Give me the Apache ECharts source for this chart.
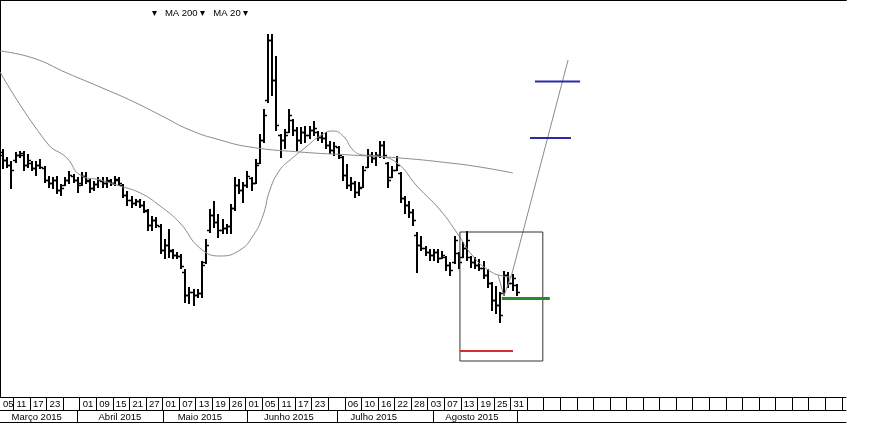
<!DOCTYPE html>
<html><head><meta charset="utf-8">
<script src="https://cdn.jsdelivr.net/npm/echarts@6/dist/echarts.min.js"></script>
<style>html,body{margin:0;padding:0;background:#fff}#c{width:880px;height:423px}</style>
</head><body><div id="c"></div>
<script>
// ---- data ----
var dayLabels = ['05','11','17','23','','01','09','15','21','27','01','07','13','19','26','01','05','11','17','23','','06','10','16','22','28','03','07','13','19','25','31'];
var dayCells = 51; // label cells of 4 trading-day slots each
var monthLabels = ['Março 2015','Abril 2015','Maio 2015','Junho 2015','Julho 2015','Agosto 2015'];
var monthBounds = [19.3, 40.1, 60.4, 82.1, 105.3, 125.6];
var monthCenters = [9.6, 29.7, 49.0, 70.5, 91.0, 114.7];

var opens = [23.7,24.2,23.7,23.2,23.7,24.2,24.2,23.2,23.4,22.9,23.2,22.9,21.7,21.4,21.7,20.7,21.2,21.7,22.1,21.7,
21.4,22.1,21.6,20.9,21.3,21.6,21.4,21.6,21.4,21.7,21.2,20.2,19.7,19.4,19.6,19.2,18.6,17.2,17.7,17.1,
14.7,15.2,14.6,14.2,14.1,12.5,10.2,10.5,10.2,10.4,13.5,16.7,18.2,17.5,16.7,16.9,17.1,18.9,21.2,20.7,
21.2,21.9,21.4,23.4,25.7,29.7,35.7,31.7,26.2,25.7,26.5,27.7,26.7,25.7,26.5,26.2,26.7,26.5,26.0,25.9,
25.2,24.7,25.0,24.0,22.2,21.2,21.4,20.5,21.0,23.0,24.2,23.9,24.2,25.2,23.4,22.0,22.7,22.4,19.9,19.2,
18.5,16.2,15.2,14.9,14.5,14.2,14.5,13.9,14.0,13.2,13.5,14.4,14.0,14.9,14.0,13.5,13.2,12.9,12.2,11.4,
9.7,9.2,10.4,12.2,11.4,11.2];
var highs = [24.9,24.7,23.9,23.5,24.4,24.5,24.5,24.2,23.5,23.5,23.7,23.0,22.0,21.9,22.0,21.2,21.9,22.5,22.2,21.9,
22.4,22.4,21.7,21.5,21.9,21.9,21.9,21.7,22.0,21.9,21.2,20.5,20.0,19.7,19.7,19.5,18.7,18.0,17.9,17.2,
15.7,16.7,14.7,14.4,14.2,12.7,10.9,10.7,10.7,13.5,15.7,18.7,19.5,18.2,17.7,17.2,19.2,21.9,21.7,21.4,
22.5,21.9,23.7,26.2,28.7,36.2,36.2,34.0,26.2,26.7,28.7,27.7,26.9,26.9,27.0,27.0,27.5,26.5,26.4,26.4,
25.5,25.4,25.0,24.0,23.2,21.9,21.5,21.4,23.0,24.7,24.4,24.4,25.5,25.5,23.4,23.0,24.0,22.4,20.0,19.5,
18.7,16.4,16.0,15.0,14.7,14.7,14.7,14.5,14.0,13.4,16.0,14.4,15.4,16.5,14.0,13.9,13.7,13.5,12.7,11.4,
11.0,10.4,12.5,12.4,12.2,11.2];
var lows = [23.2,22.9,23.0,20.9,23.5,24.0,22.7,23.0,22.7,22.2,22.9,21.5,21.0,20.9,20.4,20.2,21.2,21.4,21.5,20.5,
21.2,21.4,20.5,20.7,21.0,21.0,21.0,21.2,21.2,21.2,20.0,19.2,19.0,19.2,19.0,18.5,16.7,16.7,17.0,14.4,
13.9,14.0,13.9,13.9,12.9,9.5,9.4,9.2,10.0,10.0,13.4,16.5,17.0,16.0,16.4,16.4,16.4,18.7,20.4,19.5,
21.0,20.7,21.4,23.4,25.5,29.5,30.2,26.7,24.0,24.9,26.5,26.2,24.7,25.4,25.5,25.9,26.2,25.7,25.5,24.9,
24.4,24.2,23.9,21.7,20.9,20.7,20.0,20.2,21.0,23.0,23.5,23.2,24.0,23.9,21.0,22.0,22.7,19.5,18.4,18.0,
17.2,12.5,14.7,14.2,13.7,13.7,13.5,13.9,12.7,12.2,13.4,12.9,14.0,13.7,13.0,12.9,12.7,11.9,11.0,8.7,
8.4,7.5,10.2,11.0,10.7,10.2];
var closes = [24.5,23.7,23.2,22.7,24.2,24.4,23.2,23.7,22.9,23.2,23.0,21.7,21.4,21.7,20.7,20.9,21.7,22.2,21.7,21.2,
22.1,21.7,20.9,21.3,21.7,21.4,21.7,21.4,21.8,21.4,20.2,19.7,19.4,19.6,19.2,18.7,17.2,17.7,17.2,14.7,
15.2,14.7,14.2,14.1,13.1,10.2,10.5,10.2,10.4,13.2,15.2,18.2,17.5,16.7,16.9,17.1,18.9,21.2,20.7,21.2,
22.1,21.4,23.2,25.7,28.2,35.7,31.7,27.2,25.7,26.2,28.2,26.7,25.7,26.5,26.2,26.7,26.9,26.0,25.9,25.2,
24.7,25.1,24.2,22.2,21.2,21.4,20.5,20.9,22.7,24.2,23.9,24.2,25.2,24.2,21.7,22.7,23.2,19.9,19.2,18.5,
17.7,15.2,14.9,14.5,14.2,14.5,13.9,14.2,13.2,12.7,15.7,13.5,14.9,15.7,13.5,13.2,12.9,12.2,11.4,9.7,
9.2,8.2,12.2,11.4,11.9,10.5];

var ma20U = [0.75,12.1,16.9,20.1,24.9,29.7,34.6,39.4,44.2,49.0,53.9,58.7,61.8,64.2,65.9,68.3,70.8,74.9,78.0,81.1,83.6,86.0,88.4,91.8,96.6,101.4,107.0,111.1,114.9,119.0,122.2,124.4];
var ma20V = [32.5,25.4,23.9,22.2,21.7,21.1,20.4,19.1,17.4,14.9,14.1,14.7,16.1,18.1,20.7,22.7,23.7,25.1,26.1,26.6,26.1,24.7,24.2,24.1,23.4,21.1,18.7,16.4,14.1,12.6,12.1,12.0];
var ma200U = [0.75,8.7,16.9,24.9,32.1,39.4,46.6,53.9,61.1,73.2,85.3,97.3,109.4,116.6,124.6];
var ma200V = [34.6,33.9,32.4,31.0,29.7,28.2,26.7,25.7,25.0,24.5,24.2,23.9,23.4,23.0,22.4];

var projU = [121.0,122.4,124.4,137.9];
var projV = [12.2,10.1,12.4,33.7];
var target1 = {u:[129.9,140.8], v:31.55};
var target2 = {u:[128.7,138.6], v:25.9};
var entry  = {u:[121.9,133.5], v:9.85};
var stop   = {u:[111.8,124.6], v:4.6};
var boxU = [111.8,131.8];
var boxV = [3.6,16.5];

// ---- build ----
function pairs(us, vs){ return us.map(function(u,i){ return [u, vs[i]]; }); }
function hline(o){ return [[o.u[0], o.v],[o.u[1], o.v]]; }
var ohlc = opens.map(function(o,i){ return [i+0.5, o, closes[i], lows[i], highs[i]]; });
var XMIN = 0.75, XMAX = 205;
var cellTicks = [], cellLabels = [];
for (var k = 0; k <= dayCells; k++){ if (4*k >= XMIN) cellTicks.push(4*k); cellLabels.push(Math.max(4*k, XMIN)); }

var chart = echarts.init(document.getElementById('c'), null, {renderer:'canvas'});
var FONT = 'Liberation Sans, Arial, sans-serif';
function baseX(extra){
  var a = {type:'value', min:XMIN, max:XMAX, position:'bottom', splitLine:{show:false},
    axisLine:{show:true, lineStyle:{color:'#000', width:1}}, axisTick:{show:false}, axisLabel:{show:false}};
  for (var k in extra) a[k] = extra[k];
  return a;
}
chart.setOption({
  animation:false,
  backgroundColor:'#fff',
  title:{text:'\u25BE   MA 200 \u25BE   MA 20 \u25BE', left:147, top:3,
    textStyle:{fontSize:9.5, fontWeight:'normal', color:'#000', fontFamily:FONT}},
  grid:{left:0, right:34, top:0, bottom:26},
  xAxis:[
    baseX({
      axisTick:{show:true, length:13, customValues:cellTicks, lineStyle:{color:'#000'}},
      axisLabel:{show:true, margin:2, align:'left', padding:[0,0,0,3], fontSize:9.5, color:'#000', fontFamily:FONT,
        customValues:cellLabels,
        formatter:function(v){ var k = Math.floor(v/4 + 0.01); return dayLabels[k] || ''; }}}),
    baseX({offset:13,
      axisTick:{show:true, length:12, customValues:monthBounds, lineStyle:{color:'#000'}},
      axisLabel:{show:true, margin:2, fontSize:9.5, color:'#000', fontFamily:FONT, customValues:monthCenters,
        formatter:function(v){ var best=0; for (var i=1;i<monthCenters.length;i++){ if (Math.abs(monthCenters[i]-v)<Math.abs(monthCenters[best]-v)) best=i; } return monthLabels[best]; }}}),
    baseX({offset:25}),
    baseX({position:'top', axisLine:{show:true, lineStyle:{color:'#000', width:2}}})
  ],
  yAxis:{type:'value', min:0, max:39.7, splitLine:{show:false},
    axisLine:{show:true, lineStyle:{color:'#000', width:2}}, axisTick:{show:false}, axisLabel:{show:false}},
  series:[
    {type:'line', name:'MA 200', data:pairs(ma200U, ma200V), smooth:true, symbol:'none', lineStyle:{color:'#8a8a8a', width:1}},
    {type:'line', name:'MA 20', data:pairs(ma20U, ma20V), smooth:true, symbol:'none', lineStyle:{color:'#8a8a8a', width:1}},
    {type:'line', data:pairs(projU, projV), symbol:'none', lineStyle:{color:'#8a8a8a', width:1}},
    {type:'custom', data:ohlc, encode:{x:0, y:[1,2,3,4]}, clip:true,
      renderItem:function(params, api){
        var u = api.value(0);
        var o = api.coord([u, api.value(1)]);
        var c = api.coord([u, api.value(2)]);
        var l = api.coord([u, api.value(3)]);
        var h = api.coord([u, api.value(4)]);
        var x = Math.round(o[0]);
        var st = {stroke:'#000', lineWidth:2};
        return {type:'group', children:[
          {type:'line', shape:{x1:x, y1:h[1]-1, x2:x, y2:l[1]+1}, style:st},
          {type:'line', shape:{x1:x-3, y1:Math.round(o[1])+0.5, x2:x, y2:Math.round(o[1])+0.5}, style:{stroke:'#000', lineWidth:1.5}},
          {type:'line', shape:{x1:x, y1:Math.round(c[1])+0.5, x2:x+3, y2:Math.round(c[1])+0.5}, style:{stroke:'#000', lineWidth:1.5}}
        ]};
      }},
    {type:'line', data:[[boxU[0],boxV[0]],[boxU[1],boxV[0]],[boxU[1],boxV[1]],[boxU[0],boxV[1]],[boxU[0],boxV[0]]], symbol:'none', lineStyle:{color:'#333', width:1}},
    {type:'line', data:hline(target1), symbol:'none', lineStyle:{color:'#2b2ba6', width:2}},
    {type:'line', data:hline(target2), symbol:'none', lineStyle:{color:'#2b2ba6', width:2}},
    {type:'line', data:hline(entry), symbol:'none', lineStyle:{color:'#2a8a2a', width:3}},
    {type:'line', data:hline(stop), symbol:'none', lineStyle:{color:'#d03030', width:2}}
  ]
});
</script>
</body></html>
